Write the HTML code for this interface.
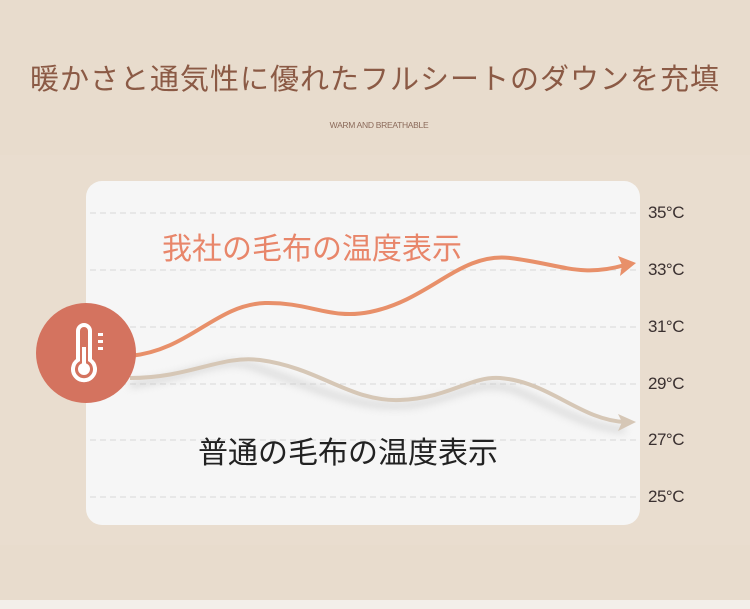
<!DOCTYPE html>
<html><head><meta charset="utf-8"><style>
body{margin:0;width:750px;height:609px;overflow:hidden;background:#e8dccd;font-family:"Liberation Sans","Noto Sans CJK JP",sans-serif;position:relative}
.t{position:absolute;top:56px;left:0;width:750px;text-align:center;font-size:29px;color:#8b5a45;letter-spacing:1px}
.s{position:absolute;top:120px;left:0;width:758px;text-align:center;font-size:8.5px;color:#8b6a5a;letter-spacing:-0.3px}
.band{position:absolute;top:155px;left:0;width:750px;height:390px;background:#e9ddcf}
.bot{position:absolute;top:600px;left:0;width:750px;height:9px;background:#f3efea}
.card{position:absolute;left:86px;top:181px;width:554px;height:344px;background:#f6f6f6;border-radius:16px}
.lab{position:absolute;left:648px;font-size:17px;color:#3a3030;letter-spacing:-0.5px}
</style></head><body>
<div class="band"></div><div class="bot"></div>
<div class="t">暖かさと通気性に優れたフルシートのダウンを充填</div>
<div class="s">WARM AND BREATHABLE</div>
<div class="card"></div>
<div class="lab" style="top:203px">35°C</div>
<div class="lab" style="top:260px">33°C</div>
<div class="lab" style="top:317px">31°C</div>
<div class="lab" style="top:374px">29°C</div>
<div class="lab" style="top:430px">27°C</div>
<div class="lab" style="top:487px">25°C</div>
<svg width="750" height="609" style="position:absolute;left:0;top:0">
<defs><filter id="sh" x="-10%" y="-50%" width="120%" height="200%"><feGaussianBlur stdDeviation="4"/></filter></defs>
<g stroke="#d8d8d8" stroke-dasharray="6,4" stroke-width="1">
<line x1="90" y1="213" x2="636" y2="213"/><line x1="90" y1="270" x2="636" y2="270"/>
<line x1="90" y1="327" x2="636" y2="327"/><line x1="90" y1="384" x2="636" y2="384"/>
<line x1="90" y1="440" x2="636" y2="440"/><line x1="90" y1="497" x2="636" y2="497"/></g>
<path d="M130,385 C200,375 220,355 255,367 C320,390 360,410 410,405 C460,398 480,375 520,392 C560,410 590,428 625,430" stroke="#bbb" stroke-width="6" fill="none" opacity="0.5" filter="url(#sh)"/>
<path d="M130,356 C190,350 215,305 265,303 C310,302 330,320 370,312 C430,300 460,252 510,258 C560,264 580,278 625,265" stroke="#e8906a" stroke-width="4" fill="none"/>
<polygon points="636,263 618,256 622,265 620,276" fill="#e8906a"/>
<path d="M130,378 C190,378 220,355 260,360 C320,368 350,402 400,400 C450,398 470,376 500,378 C550,382 580,420 625,422" stroke="#d6c7b6" stroke-width="4" fill="none"/>
<polygon points="636,422 618,414 622,422 618,431" fill="#d6c7b6"/>
<circle cx="86" cy="353" r="50" fill="#d4735f"/>
<g fill="none" stroke="#fff" stroke-width="4"><path d="M78,360 V331 a6,6 0 0 1 12,0 V360 a11,11 0 1 1 -12,0 Z"/></g>
<circle cx="84" cy="369" r="6" fill="#fff"/><rect x="82" y="347" width="4" height="20" fill="#fff"/>
<g fill="#fff"><rect x="98" y="333" width="5" height="3"/><rect x="98" y="340" width="5" height="3"/><rect x="98" y="347" width="5" height="3"/></g>
<text x="162" y="259" font-size="30" fill="#e8866a" font-family="Liberation Sans,Noto Sans CJK JP,sans-serif">我社の毛布の温度表示</text>
<text x="198" y="463" font-size="30" fill="#222" font-family="Liberation Sans,Noto Sans CJK JP,sans-serif">普通の毛布の温度表示</text>
</svg>
</body></html>
